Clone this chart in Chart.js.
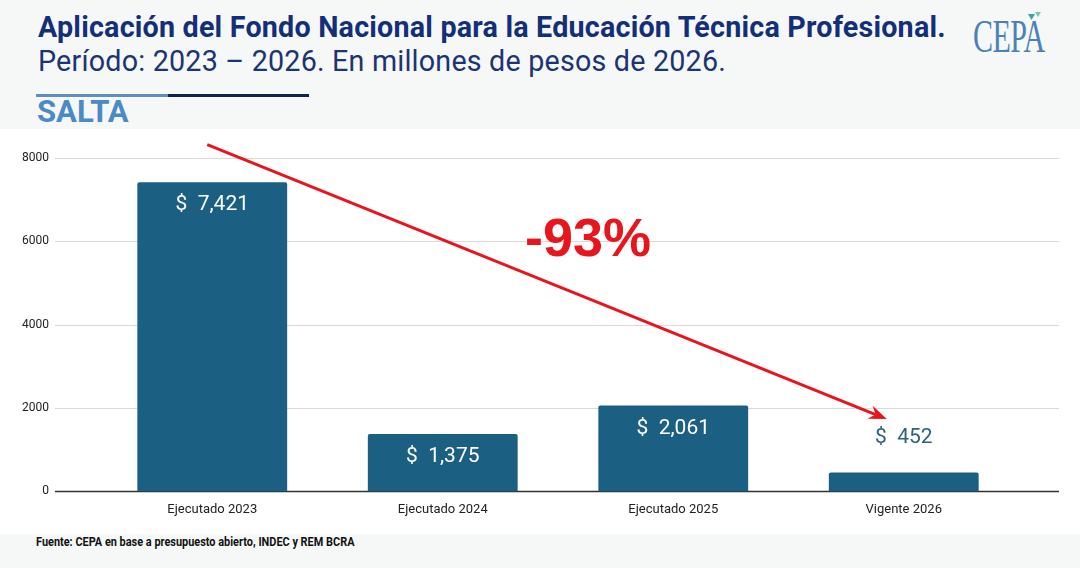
<!DOCTYPE html>
<html>
<head>
<meta charset="utf-8">
<script src="https://cdn.jsdelivr.net/npm/chart.js@4/dist/chart.umd.min.js"></script>
<style>
  body { margin: 0; width: 1080px; height: 568px; background: #f6f8f7; font-family: Roboto, sans-serif; position: relative; overflow: hidden; }
  .abs { position: absolute; white-space: nowrap; line-height: normal; }
  #title { left: 38px; top: 10px; font-size: 28.7px; font-weight: 700; color: #142f7a; letter-spacing: 0.2px; }
  #subtitle { left: 38px; top: 44px; font-size: 28.7px; color: #1b3474; letter-spacing: 0.2px; }
  #line1 { left: 36px; top: 94px; width: 132px; height: 3px; background: #5b8fc2; }
  #line2 { left: 168px; top: 94px; width: 141px; height: 3px; background: #0f2350; }
  #region { left: 37px; top: 93px; font-size: 31px; font-weight: 700; color: #4c8ac6; }
  #logo { left: 973px; top: 9px; font-family: "Liberation Serif", serif; font-size: 47px; color: #4b80b8; transform: scaleX(0.64); transform-origin: left top; letter-spacing: -1px; }
  #chartbox { left: 0; top: 129px; width: 1080px; height: 405px; background: #ffffff; }
  #source { left: 36px; top: 534px; font-size: 13px; font-weight: 700; color: #111; transform: scaleX(0.84); transform-origin: left top; }
</style>
</head>
<body>
<div class="abs" id="title">Aplicación del Fondo Nacional para la Educación Técnica Profesional.</div>
<div class="abs" id="subtitle">Período: 2023 – 2026. En millones de pesos de 2026.</div>
<div class="abs" id="line1"></div>
<div class="abs" id="line2"></div>
<div class="abs" id="region">SALTA</div>
<div class="abs" id="logo">CEPA</div>
<svg class="abs" style="left:1028px;top:12px" width="16" height="12">
  <polygon points="0,2 7,2 3.5,8" fill="#3aa5a0"/>
  <polygon points="7,0 13,0 10,5" fill="#7fc4a8"/>
</svg>
<div class="abs" id="chartbox"><canvas id="chart"></canvas></div>
<div class="abs" id="source">Fuente: CEPA en base a presupuesto abierto, INDEC y REM BCRA</div>

<script>
var categories = ['Ejecutado 2023', 'Ejecutado 2024', 'Ejecutado 2025', 'Vigente 2026'];
var values = [7421, 1375, 2061, 452];
var valueLabels = ['$  7,421', '$  1,375', '$  2,061', '$  452'];
var labelInside = [true, true, true, false];
var yTicks = [0, 2000, 4000, 6000, 8000];
var changeLabel = '-93%';

var barColor = '#1b5f82';
var red = '#e8161c';

// gridlines over the full width, zero line, bar labels, arrow and % label
var decorations = {
    id: 'decorations',
    beforeDatasetsDraw: function (chart) {
        var ctx = chart.ctx, y = chart.scales.y;
        ctx.save();
        yTicks.forEach(function (t) {
            var py = Math.round(y.getPixelForValue(t)) + 0.5;
            ctx.strokeStyle = t === 0 ? '#333333' : '#d9d9d9';
            ctx.lineWidth = t === 0 ? 1.5 : 1;
            ctx.beginPath();
            ctx.moveTo(55, py);
            ctx.lineTo(1059, py);
            ctx.stroke();
        });
        ctx.restore();
    },
    afterDatasetsDraw: function (chart) {
        var ctx = chart.ctx, x = chart.scales.x, y = chart.scales.y;
        var bars = chart.getDatasetMeta(0).data;
        ctx.save();
        ctx.font = '21px Roboto';
        ctx.textAlign = 'center';
        ctx.textBaseline = 'middle';
        bars.forEach(function (bar, i) {
            if (labelInside[i]) {
                ctx.fillStyle = '#ffffff';
                ctx.fillText(valueLabels[i], bar.x, bar.y + 23);
            } else {
                ctx.fillStyle = '#2b627c';
                ctx.fillText(valueLabels[i], bar.x, bar.y - 35);
            }
        });

        // arrow
        var x0 = x.getPixelForValue(0) - 5, y0 = y.getPixelForValue(8320);
        var x1 = x.getPixelForValue(3) - 17, y1 = y.getPixelForValue(1735);
        var ang = Math.atan2(y1 - y0, x1 - x0);
        ctx.strokeStyle = red;
        ctx.fillStyle = red;
        ctx.lineWidth = 3;
        ctx.beginPath();
        ctx.moveTo(x0, y0);
        ctx.lineTo(x1 - 12 * Math.cos(ang), y1 - 12 * Math.sin(ang));
        ctx.stroke();
        ctx.beginPath();
        ctx.moveTo(x1, y1);
        ctx.lineTo(x1 - 18 * Math.cos(ang) + 7 * Math.sin(ang), y1 - 18 * Math.sin(ang) - 7 * Math.cos(ang));
        ctx.lineTo(x1 - 12 * Math.cos(ang), y1 - 12 * Math.sin(ang));
        ctx.lineTo(x1 - 18 * Math.cos(ang) - 7 * Math.sin(ang), y1 - 18 * Math.sin(ang) + 7 * Math.cos(ang));
        ctx.closePath();
        ctx.fill();

        ctx.font = 'bold 54px "Liberation Sans", Arial, sans-serif';
        ctx.fillText(changeLabel, (x.getPixelForValue(1) + x.getPixelForValue(2)) / 2 + 30, y.getPixelForValue(6000));
        ctx.restore();
    }
};

var chart = new Chart(document.getElementById('chart'), {
    type: 'bar',
    data: {
        labels: categories,
        datasets: [{
            data: values,
            backgroundColor: barColor,
            borderRadius: 2,
            borderSkipped: 'bottom',
            categoryPercentage: 1,
            barPercentage: 0.65
        }]
    },
    options: {
        responsive: true,
        maintainAspectRatio: false,
        animation: false,
        layout: { padding: { top: 29, right: 61, bottom: 5, left: 0 } },
        plugins: { legend: { display: false }, tooltip: { enabled: false } },
        scales: {
            x: {
                grid: { display: false, drawTicks: false },
                border: { display: false },
                ticks: { color: '#222222', font: { family: 'Roboto', size: 13 }, padding: 11 }
            },
            y: {
                min: 0,
                max: 8000,
                afterFit: function (scale) {
                    scale.width = 97;
                    scale.paddingTop = 0;
                    scale.paddingBottom = 0;
                },
                afterBuildTicks: function (scale) {
                    scale.ticks = yTicks.map(function (v) { return { value: v }; });
                },
                grid: { display: false, drawTicks: false },
                border: { display: false },
                ticks: {
                    color: '#222222',
                    font: { family: 'Roboto', size: 12 },
                    padding: 48,
                    callback: function (v) { return String(v); }
                }
            }
        }
    },
    plugins: [decorations]
});
</script>
</body>
</html>
